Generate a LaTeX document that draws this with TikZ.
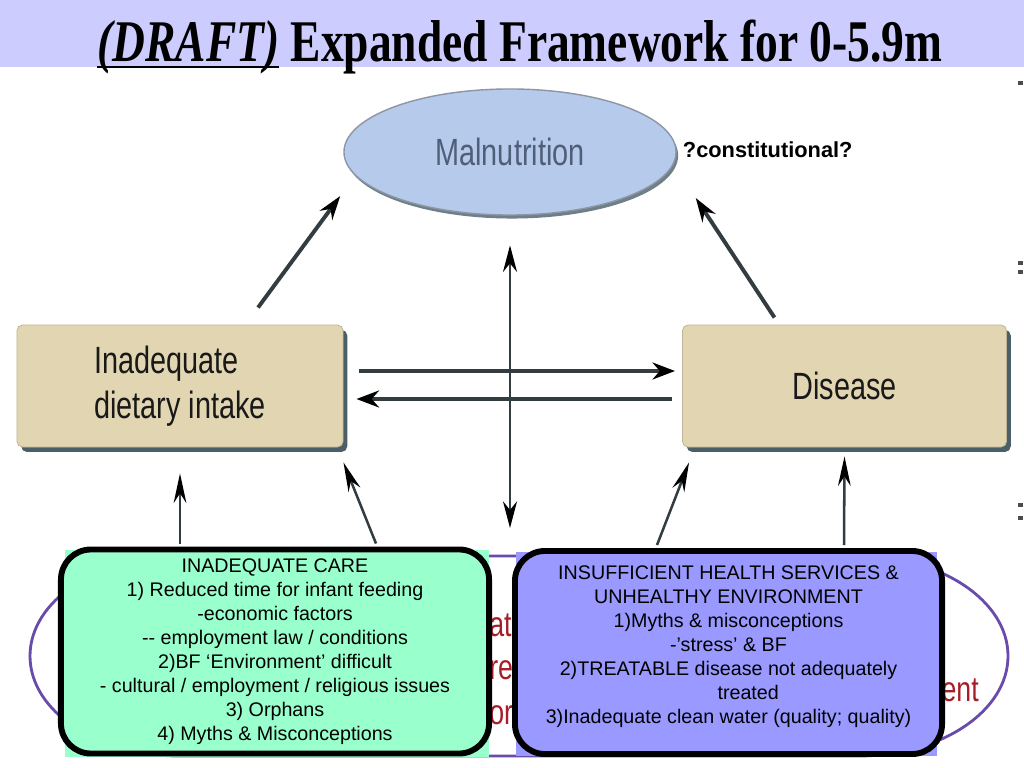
\documentclass[tikz,border=0pt]{standalone}
\usepackage{fontspec}
\setmainfont{Liberation Serif}
\setsansfont{Liberation Sans}
\newfontfamily\titlefont[FakeStretch=0.77]{Liberation Serif}
\newfontfamily\narrowsans[FakeStretch=0.76]{Liberation Sans}
\newsavebox{\draftbox}
\newcommand{\thickul}[1]{\sbox{\draftbox}{#1}\rlap{\rule[-4.5pt]{\wd\draftbox}{2pt}}\usebox{\draftbox}}
\usetikzlibrary{arrows.meta,shapes.geometric,calc,shadows}

\definecolor{titleband}{RGB}{204,204,255}
\definecolor{malfill}{RGB}{182,202,236}
\definecolor{malline}{RGB}{140,150,165}
\definecolor{maltext}{RGB}{80,95,120}
\definecolor{tanfill}{RGB}{226,214,178}
\definecolor{slate}{RGB}{75,95,105}
\definecolor{arrowgray}{RGB}{50,60,65}
\definecolor{carefill}{RGB}{153,255,204}
\definecolor{healthfill}{RGB}{153,153,255}
\definecolor{ringpurple}{RGB}{105,75,170}
\definecolor{fragred}{RGB}{165,30,40}

\begin{document}
\begin{tikzpicture}[
        x=0.025cm, y=-0.025cm,
        tanbox/.style={rectangle, rounded corners=4pt, fill=tanfill, draw=tanfill!85!black, line width=0.6pt,
            minimum width=8.15cm, minimum height=3.05cm, text=black!90, font=\narrowsans\fontsize{27}{32}\selectfont,
            drop shadow={shadow xshift=3pt, shadow yshift=-3.5pt, fill=slate, opacity=1}},
        causebox/.style={rectangle, rounded corners=0.75cm, draw=black, line width=4.2pt, align=center,
            font=\sffamily\fontsize{14}{17}\selectfont},
        fragtext/.style={inner sep=0pt, text=fragred, font=\narrowsans\fontsize{25}{28}\selectfont},
        arrow/.style={draw=arrowgray, line width=2.8pt, -{Stealth[length=17pt, width=11pt, color=black]}},
        uparrow/.style={draw=arrowgray, line width=1.8pt, -{Stealth[length=21pt, width=9pt, color=black]}},
        dblarrow/.style={draw=arrowgray, line width=1.4pt,
            {Stealth[length=19pt, width=10pt, color=black]}-{Stealth[length=19pt, width=10pt, color=black]}},
        harrow/.style={draw=arrowgray, line width=3.2pt, -{Stealth[length=16pt, width=12pt, color=black]}}
    ]
    \useasboundingbox (0,0) rectangle (1024,768);

    % --- Title band ---
    \fill[titleband] (0,0) rectangle (1024,67);
    \node (title) [anchor=base, inner sep=0pt] at (520,62)
        {\titlefont\fontsize{42}{42}\selectfont\bfseries \thickul{\textit{(DRAFT)}} Expanded Framework for 0-5.9m};

    % --- Top: outcome and immediate causes ---
    \node (mal) [ellipse, fill=malfill, draw=malline, line width=1pt, minimum width=8.3cm, minimum height=3.15cm,
        text=maltext, font=\narrowsans\fontsize{27}{30}\selectfont,
        drop shadow={shadow xshift=1.5pt, shadow yshift=-2.5pt, fill=slate!80, opacity=1}] at (510,152) {Malnutrition};
    \node (const) [anchor=west, font=\sffamily\bfseries\fontsize{15.5}{18}\selectfont] at (678,150) {?constitutional?};

    \node (diet) [tanbox, align=left] at (180,386) {Inadequate\\dietary intake};
    \node (dis) [tanbox, minimum width=8.1cm] at (844.5,386) {Disease};

    \draw[arrow] ($(diet.north)+(78,-17)$) -- ($(mal.west)+(-3,44)$);
    \draw[arrow] ($(dis.north)+(-70,-7)$) -- ($(mal.east)+(19,46)$);
    \draw[harrow] ($(diet.east)+(16,-15)$) -- ($(dis.west)+(-7,-15)$);
    \draw[harrow] ($(dis.west)+(-10,13)$) -- ($(diet.east)+(13,13)$);

    % --- Underlying causes (partly hidden ring behind) ---
    \draw[ringpurple, line width=2pt, fill=white] (180,556) -- (858,556)
        arc[start angle=-90, end angle=90, x radius=150, y radius=100] -- (180,756)
        arc[start angle=90, end angle=270, x radius=150, y radius=100] -- cycle;
    \node (fragA) [fragtext, anchor=west] at (489,625) {at};
    \node (fragB) [fragtext, anchor=west] at (489,670) {re};
    \node (fragC) [fragtext, anchor=west] at (489,715) {or};
    \node (fragD) [fragtext, anchor=east] at (979,690) {ent};

    \coordinate (gapend) at (510,528);
    \draw[dblarrow, shorten <=0.74cm] (mal.south) -- (gapend);

    \fill[carefill] (65,550) rectangle (489,757);
    \fill[healthfill] (516,552) rectangle (937,756);

    \node (care) [causebox, fill=carefill, minimum width=10.7cm, minimum height=5.1cm] at (275,651.5)
        {INADEQUATE CARE\\
         1) Reduced time for infant feeding\\
         -economic factors\\
         -{}- employment law / conditions\\
         2)BF ‘Environment’ difficult\\
         - cultural / employment / religious issues\\
         3) Orphans\\
         4) Myths \& Misconceptions};
    \node (hlth) [causebox, fill=healthfill, minimum width=10.675cm, minimum height=5.075cm] at (728.5,652.5)
        {INSUFFICIENT HEALTH SERVICES \&\\
         UNHEALTHY ENVIRONMENT\\
         1)Myths \& misconceptions\\
         -’stress’ \& BF\\
         2)TREATABLE disease not adequately\\
         \hspace*{28pt}treated\\
         3)Inadequate clean water (quality; quality)\\[-6pt]
         \mbox{}};

    \draw[uparrow] ($(care.north)+(-95,-3)$) -- ($(diet.south)+(0,26)$);
    \draw[uparrow] ($(care.north)+(101,-3)$) -- ($(diet.south east)+(0,15)$);
    \draw[uparrow] ($(hlth.north)+(-71.5,-3)$) -- ($(dis.south west)+(7,15)$);
    \draw[uparrow] ($(hlth.north)+(115.5,-3)$) -- ($(dis.south)+(0,9)$);

    % --- Edge marks ---
    \foreach \y in {83,263,272,505,518}
        \fill[black!70] (1018,\y-2) rectangle (1023,\y+2);

\end{tikzpicture}
\end{document}
